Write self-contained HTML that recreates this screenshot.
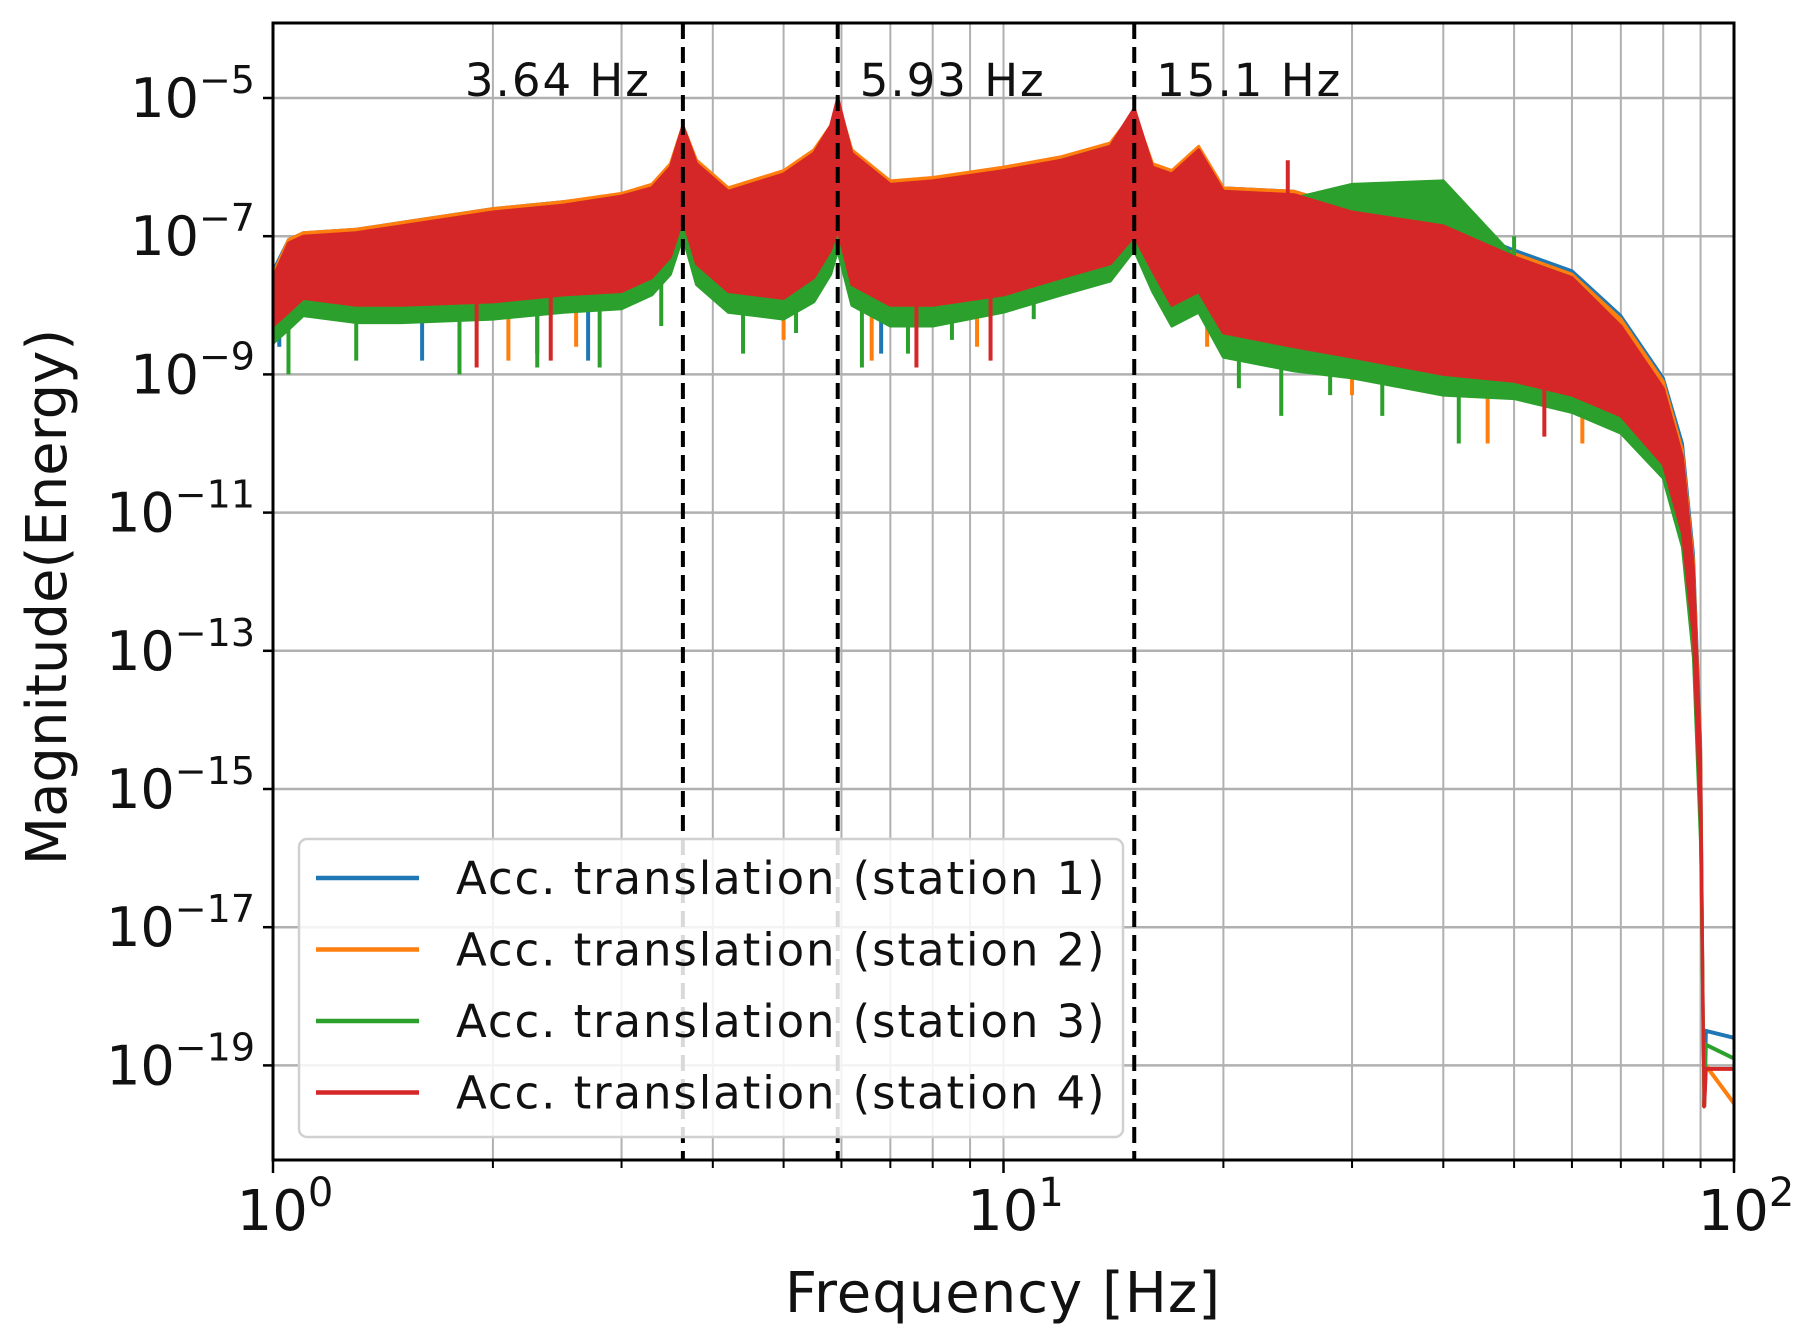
<!DOCTYPE html>
<html><head><meta charset="utf-8"><style>
html,body{margin:0;padding:0;background:#fff}
svg{display:block}
text{font-family:"DejaVu Sans","Liberation Sans",sans-serif;fill:#111}
</style></head><body>
<svg id="chart" width="1800" height="1344" viewBox="0 0 1800 1344" xmlns="http://www.w3.org/2000/svg">
<g id="grid"></g>
<g id="series"></g>
<g id="vlines"></g>
<g id="axes"></g>
<g id="legend"></g>
</svg>
<script>
// ---- data (log10 of magnitude) ----
const freqs = [1,1.05,1.1,1.3,1.5,2,2.5,3,3.3,3.5,3.64,3.8,4.2,5,5.5,5.8,5.93,6.2,7,8,10,12,14,15.1,16,17,18.5,20,25,30,40,50,60,70,80,85,88,90,91];
const redUpper = [-7.6,-7.1,-7.0,-6.95,-6.85,-6.65,-6.55,-6.42,-6.3,-6.0,-5.4,-5.95,-6.35,-6.1,-5.8,-5.4,-5.0,-5.8,-6.25,-6.2,-6.05,-5.9,-5.7,-5.15,-6.0,-6.1,-5.75,-6.35,-6.4,-6.65,-6.85,-7.3,-7.6,-8.3,-9.2,-10.2,-11.8,-14.5,-19.6];
const redLower = [-8.3,-8.1,-7.9,-8.0,-8.0,-7.95,-7.85,-7.8,-7.6,-7.3,-6.75,-7.4,-7.8,-7.9,-7.6,-7.2,-6.9,-7.7,-8.0,-8.0,-7.85,-7.6,-7.4,-7.0,-7.5,-8.0,-7.8,-8.4,-8.6,-8.75,-9.0,-9.1,-9.3,-9.6,-10.3,-11.3,-12.8,-15.5,-19.6];
const orangeUpper = [-7.55,-7.05,-6.95,-6.9,-6.8,-6.6,-6.5,-6.38,-6.25,-5.95,-5.4,-5.9,-6.3,-6.05,-5.75,-5.4,-5.05,-5.75,-6.2,-6.15,-6.0,-5.85,-5.65,-5.2,-5.95,-6.05,-5.7,-6.3,-6.35,-6.6,-6.8,-7.25,-7.55,-8.2,-9.1,-10.1,-11.7,-14.4,-19.5];
const orangeLower = [-8.45,-8.25,-8.05,-8.15,-8.15,-8.1,-8.0,-7.95,-7.75,-7.45,-6.85,-7.55,-7.95,-8.05,-7.75,-7.35,-7.0,-7.85,-8.15,-8.15,-8.0,-7.75,-7.55,-7.1,-7.65,-8.15,-7.95,-8.55,-8.75,-8.9,-9.15,-9.25,-9.45,-9.75,-10.45,-11.45,-13.0,-15.6,-19.6];
const blueUpper = [-7.5,-7.05,-6.95,-6.9,-6.8,-6.6,-6.5,-6.4,-6.28,-5.98,-5.45,-5.95,-6.33,-6.08,-5.78,-5.45,-5.1,-5.78,-6.22,-6.17,-6.02,-5.87,-5.68,-5.2,-5.97,-6.07,-5.72,-6.3,-6.35,-6.6,-6.8,-7.2,-7.5,-8.15,-9.05,-10.0,-11.6,-14.3,-19.5];
const blueLower = [-8.4,-8.2,-8.0,-8.1,-8.1,-8.05,-7.95,-7.9,-7.7,-7.4,-6.8,-7.5,-7.9,-8.0,-7.7,-7.3,-6.95,-7.8,-8.1,-8.1,-7.95,-7.7,-7.5,-7.05,-7.6,-8.1,-7.9,-8.5,-8.7,-8.85,-9.1,-9.2,-9.4,-9.7,-10.4,-11.4,-12.9,-15.6,-19.6];
const greenUpper = [-7.7,-7.2,-7.1,-7.05,-6.95,-6.75,-6.65,-6.5,-6.4,-6.1,-5.5,-6.05,-6.45,-6.2,-5.9,-5.5,-5.1,-5.9,-6.3,-6.25,-6.1,-5.9,-5.7,-5.2,-6.05,-6.15,-5.8,-6.35,-6.45,-6.25,-6.2,-7.3,-7.6,-8.3,-9.3,-10.3,-11.9,-14.8,-19.5];
const greenLower = [-8.55,-8.35,-8.15,-8.25,-8.25,-8.2,-8.1,-8.05,-7.85,-7.55,-7.0,-7.7,-8.1,-8.2,-7.95,-7.55,-7.2,-8.0,-8.3,-8.3,-8.1,-7.85,-7.65,-7.2,-7.8,-8.3,-8.1,-8.75,-8.95,-9.05,-9.3,-9.35,-9.55,-9.85,-10.5,-11.5,-13.1,-15.8,-19.6];
// spikes: [freq, log10 value]
const greenSpikesF = [1.05,1.3,1.8,2.3,2.8,3.4,4.4,5.2,6.4,7.4,8.5,11,21,24,28,33,42,50];
const greenSpikesV = [-9.0,-8.8,-9.0,-8.9,-8.9,-8.3,-8.7,-8.4,-8.9,-8.7,-8.5,-8.2,-9.2,-9.6,-9.3,-9.6,-10.0,-7.0];
const orangeSpikesF = [2.1,2.6,5.0,6.6,9.2,19,30,46,62];
const orangeSpikesV = [-8.8,-8.6,-8.5,-8.8,-8.6,-8.6,-9.3,-10.0,-10.0];
const blueSpikesF = [1.02,1.6,2.3,2.7,6.8];
const blueSpikesV = [-8.6,-8.8,-8.7,-8.8,-8.7];
const redSpikesF = [24.5,1.9,2.4,7.6,9.6,55];
const redSpikesV = [-5.9,-8.9,-8.8,-8.9,-8.8,-9.9];
// tails beyond cutoff [freq, value]
const tailF = [91.5,100];
const blueTail = [-18.5,-18.6];
const greenTail = [-18.7,-18.9];
const redTail = [-19.05,-19.05];
const orangeTail = [-19.0,-19.55];
const peakFreqs = [3.64,5.93,15.1];
const peakLabels = ["3.64 Hz","5.93 Hz","15.1 Hz"];
const yTickExps = [-5,-7,-9,-11,-13,-15,-17,-19];
const xTickExps = [0,1,2];
const legendLabels = ["Acc. translation (station 1)","Acc. translation (station 2)","Acc. translation (station 3)","Acc. translation (station 4)"];

// ---- scales ----
const L=273,R=1734,T=23,B=1160;
const X = f => L + (R-L)/2*Math.log10(f);
const Y = lv => 98 + (-5-lv)*69.1;
const NS="http://www.w3.org/2000/svg";
function mk(tag,attrs,parent){const e=document.createElementNS(NS,tag);for(const k in attrs)e.setAttribute(k,attrs[k]);parent.appendChild(e);return e;}
const grid=document.getElementById('grid'),ser=document.getElementById('series'),ax=document.getElementById('axes'),vl=document.getElementById('vlines'),lg=document.getElementById('legend');

// grid
for(let d=0;d<2;d++)for(let m=1;m<=9;m++){const f=Math.pow(10,d)*m;if(m===1&&d===0)continue;
 const g=mk('line',{x1:X(f),x2:X(f),y1:T,y2:B,stroke:'#b0b0b0','stroke-width':2},grid);
 
 }
yTickExps.forEach(e=>{const g=mk('line',{x1:L,x2:R,y1:Y(e),y2:Y(e),stroke:'#b0b0b0','stroke-width':2.5},grid);
 
 });

const colors={blue:'#1f77b4',orange:'#ff7f0e',green:'#2ca02c',red:'#d62728'};
function band(up,lo,col,name){
 let pts=freqs.map((f,i)=>X(f)+','+Y(up[i]));
 for(let i=freqs.length-1;i>=0;i--)pts.push(X(freqs[i])+','+Y(lo[i]));
 const p=mk('polygon',{points:pts.join(' '),fill:col,stroke:col,'stroke-width':3,'stroke-linejoin':'round'},ser);
 
 }
function spikes(F,V,up,col,name){F.forEach((f,i)=>{let j=0;while(j<freqs.length-1&&freqs[j+1]<f)j++;
 const t=(Math.log10(f)-Math.log10(freqs[j]))/(Math.log10(freqs[j+1])-Math.log10(freqs[j]));
 const base=up[j]+(up[j+1]-up[j])*t-0.6;
 const s=mk('line',{x1:X(f),x2:X(f),y1:Y(base),y2:Y(V[i]),stroke:col,'stroke-width':4},ser);
 
 });}
function tail(vals,col,name){const pl=mk('polyline',{points:X(91)+','+Y(-19.6)+' '+tailF.map((f,i)=>X(f)+','+Y(vals[i])).join(' '),fill:'none',stroke:col,'stroke-width':4},ser);
 
 }

band(blueUpper,blueLower,colors.blue,'station-1');spikes(blueSpikesF,blueSpikesV,blueUpper,colors.blue,'station-1');tail(blueTail,colors.blue,'station-1');
band(orangeUpper,orangeLower,colors.orange,'station-2');spikes(orangeSpikesF,orangeSpikesV,orangeUpper,colors.orange,'station-2');tail(orangeTail,colors.orange,'station-2');
band(greenUpper,greenLower,colors.green,'station-3');spikes(greenSpikesF,greenSpikesV,greenUpper,colors.green,'station-3');tail(greenTail,colors.green,'station-3');
band(redUpper,redLower,colors.red,'station-4');spikes(redSpikesF,redSpikesV,redUpper,colors.red,'station-4');tail(redTail,colors.red,'station-4');

// peak lines
peakFreqs.forEach((f,i)=>{const l=mk('line',{x1:X(f),x2:X(f),y1:T,y2:B,stroke:'#000','stroke-width':4,'stroke-dasharray':'16,8'},vl);
 
 
 const t=mk('text',{x:i===0?X(f)-32:X(f)+22,y:96,'font-size':45,'letter-spacing':2,'text-anchor':i===0?'end':'start'},vl);t.textContent=peakLabels[i];
 
 });

// axes frame
{const r=mk('rect',{x:L,y:T,width:R-L,height:B-T,fill:'none',stroke:'#000','stroke-width':3},ax);
 
 }
yTickExps.forEach(e=>{const y=Y(e);mk('line',{x1:L-10,x2:L,y1:y,y2:y,stroke:'#000','stroke-width':2.5},ax);
 const t=mk('text',{x:L-18,y:y+19,'font-size':54,'text-anchor':'end'},ax);
 
 
 const a=document.createElementNS(NS,'tspan');a.textContent='10';t.appendChild(a);
 const b=document.createElementNS(NS,'tspan');b.setAttribute('dy','-24');b.setAttribute('font-size','38');b.textContent='\u2212'+(-e);t.appendChild(b);});
for(let d=0;d<2;d++)for(let m=2;m<=9;m++){const x=X(Math.pow(10,d)*m);mk('line',{x1:x,x2:x,y1:B,y2:B+8,stroke:'#000','stroke-width':2},ax);}
xTickExps.forEach(e=>{const x=X(Math.pow(10,e));mk('line',{x1:x,x2:x,y1:B,y2:B+13,stroke:'#000','stroke-width':2.5},ax);
 const t=mk('text',{x:x+12,y:B+70,'font-size':56,'text-anchor':'middle'},ax);
 
 
 const a=document.createElementNS(NS,'tspan');a.textContent='10';t.appendChild(a);
 const b=document.createElementNS(NS,'tspan');b.setAttribute('dy','-24');b.setAttribute('font-size','40');b.textContent=String(e);t.appendChild(b);});
{const t=mk('text',{x:1003,y:1312,'font-size':56,'letter-spacing':1,'text-anchor':'middle'},ax);t.textContent='Frequency [Hz]';
 
 }
{const t=mk('text',{x:0,y:0,'font-size':56,'text-anchor':'middle',transform:'translate(66,597) rotate(-90)'},ax);t.textContent='Magnitude(Energy)';
 
 }

// legend
{const r=mk('rect',{x:299,y:839,width:824,height:298,rx:8,fill:'rgba(255,255,255,0.85)',stroke:'#d0d0d0','stroke-width':2.5},lg);
 
 }
const lc=[colors.blue,colors.orange,colors.green,colors.red];
legendLabels.forEach((s,i)=>{const y=878+i*71.5;
 const g=mk('g',{},lg);
 
 
 mk('line',{x1:316,x2:419,y1:y,y2:y,stroke:lc[i],'stroke-width':4.5},g);
 const t=mk('text',{x:456,y:y+16,'font-size':45,'letter-spacing':1.9},g);t.textContent=s;});
</script>
</body></html>
